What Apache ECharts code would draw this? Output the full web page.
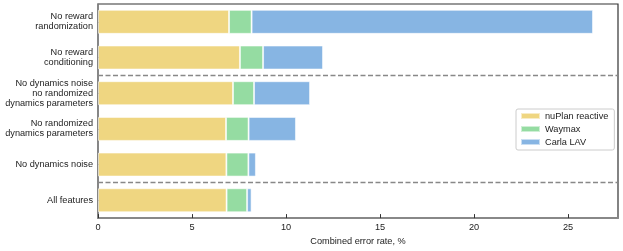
<!DOCTYPE html>
<html><head><meta charset="utf-8">
<script src="https://cdn.jsdelivr.net/npm/echarts@6/dist/echarts.min.js"></script>
<style>html,body{margin:0;padding:0;background:#fff}#c{width:623px;height:251px}</style>
</head><body><div id="c"></div>
<script>
// categories from bottom to top
const categories = ["All features", "No dynamics noise", "No randomized\ndynamics parameters", "No dynamics noise\nno randomized\ndynamics parameters", "No reward\nconditioning", "No reward\nrandomization"];
const nuplanReactive = [6.84, 6.83, 6.81, 7.18, 7.55, 6.97];
const waymax = [1.09, 1.17, 1.20, 1.12, 1.23, 1.20];
const carlaLAV = [0.24, 0.40, 2.52, 2.98, 3.19, 18.16];
const xTicks = [0, 5, 10, 15, 20, 25];
const separators = [0.5, 3.5];
const seriesNames = ["nuPlan reactive", "Waymax", "Carla LAV"];
const colors = ["#EFD681", "#95DCA2", "#87B5E3"];

const font = "Liberation Sans";
const chart = echarts.init(document.getElementById('c'));
const barSeries = [nuplanReactive, waymax, carlaLAV].map((d, i) => ({
  name: seriesNames[i], type: 'bar', stack: 'total', data: d, barWidth: 24,
  itemStyle: { color: colors[i], borderColor: 'rgba(255,255,255,0.55)', borderWidth: 1 },
  emphasis: { disabled: true }, animation: false
}));
chart.setOption({
  animation: false,
  textStyle: { fontFamily: font },
  grid: { left: 98, right: 5, top: 4, bottom: 32.5, show: true, borderColor: '#333', borderWidth: 1.2 },
  legend: {
    orient: 'vertical', left: 516, top: 109, data: seriesNames,
    itemWidth: 19, itemHeight: 6, itemGap: 3,
    padding: [2, 6, 3, 4], borderColor: '#ccc', borderWidth: 1, borderRadius: 2,
    backgroundColor: '#fff',
    textStyle: { fontFamily: font, fontSize: 9.2, color: '#222', lineHeight: 10 },
    icon: 'rect'
  },
  xAxis: {
    type: 'value', min: 0, max: 27.66, interval: 5,
    axisLine: { show: true, onZero: false, lineStyle: { color: '#888', width: 2 } },
    axisTick: { show: true, inside: true, length: 4, lineStyle: { color: '#333' } },
    axisLabel: { fontFamily: font, fontSize: 9.2, color: '#222', margin: 5, showMaxLabel: false,
      formatter: v => xTicks.includes(v) ? String(v) : '' },
    splitLine: { show: false },
    name: 'Combined error rate, %', nameLocation: 'middle', nameGap: 17,
    nameTextStyle: { fontFamily: font, fontSize: 9.2, color: '#222' }
  },
  yAxis: [{
    type: 'category', data: categories,
    axisLine: { show: true, onZero: false, lineStyle: { color: '#888', width: 1.5 } },
    axisTick: { show: true, inside: true, alignWithLabel: true, length: 4, lineStyle: { color: '#333' } },
    axisLabel: { fontFamily: font, fontSize: 9.2, color: '#222', margin: 5, lineHeight: 10, align: 'right' },
    splitLine: { show: false }
  }, {
    type: 'value', min: -0.5, max: 5.5, show: false,
    axisLine: { show: false, onZero: false }
  }],
  series: [...barSeries, {
    type: 'scatter', yAxisIndex: 1, data: [], silent: true,
    markLine: {
      symbol: 'none', silent: true, label: { show: false },
      lineStyle: { color: '#888', type: [5, 2.5], width: 1.3 },
      data: separators.map(v => ({ yAxis: v }))
    }
  }]
});
</script></body></html>
